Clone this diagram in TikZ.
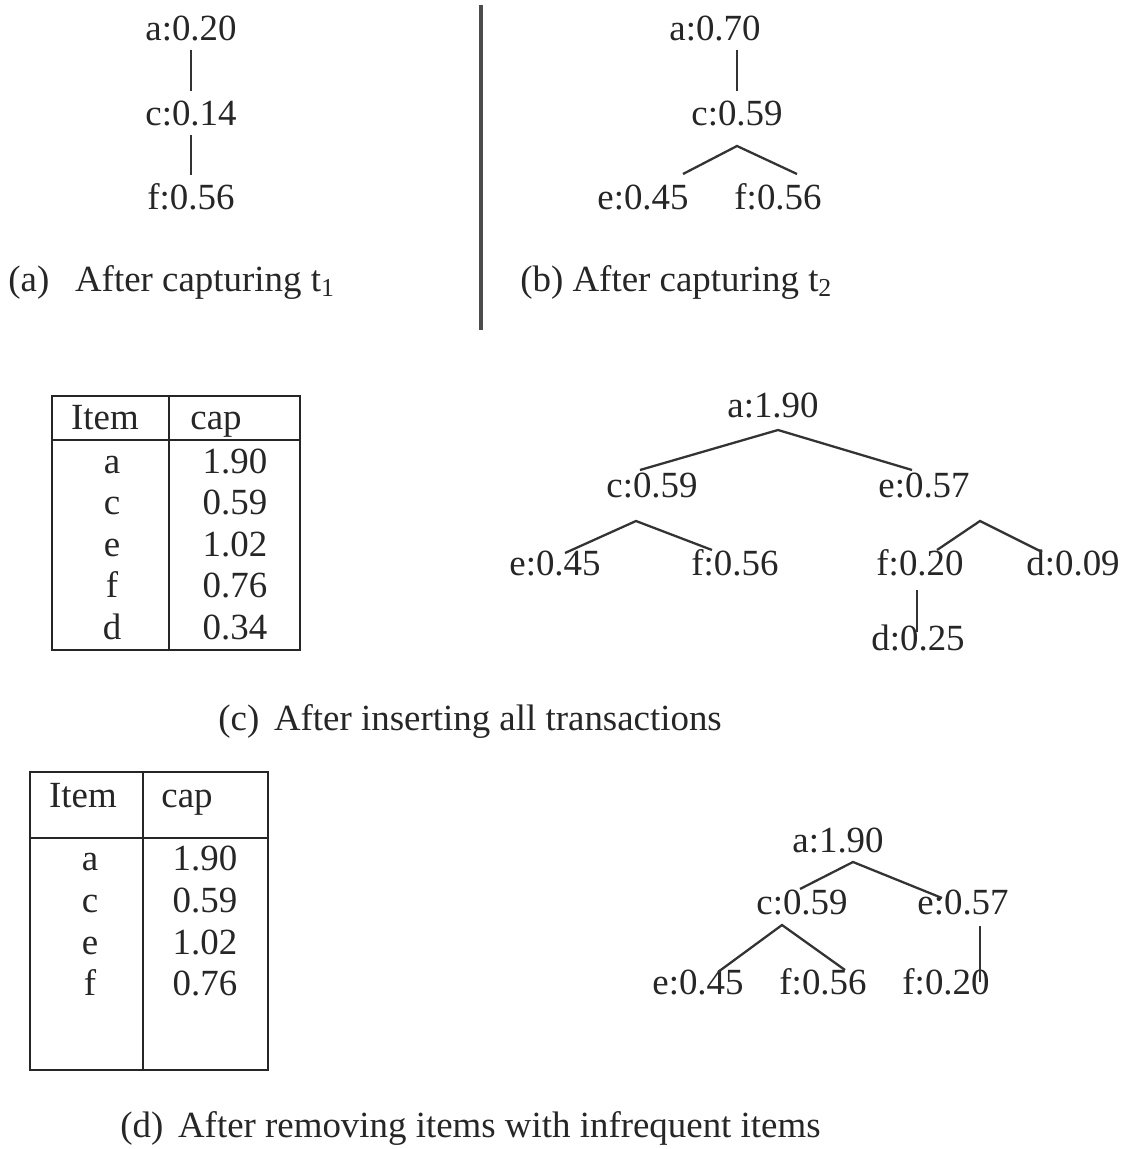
\documentclass[tikz,border=0pt]{standalone}
\usepackage{fontspec}
\setmainfont{Liberation Serif}
\usetikzlibrary{calc}

\begin{document}
\begin{tikzpicture}[
  x=0.02cm, y=-0.02cm,
  lbl/.style={inner sep=5pt, font=\fontsize{21}{25}\selectfont, text=black!85},
  cell/.style={anchor=base, inner sep=0pt, font=\fontsize{21}{25}\selectfont, text=black!85},
  capt/.style={anchor=base west, inner sep=0pt, font=\fontsize{21}{25}\selectfont, text=black!85},
  branch/.style={draw=black!80, line width=1.3pt},
  tabline/.style={draw=black!85, line width=1.4pt}
]
  \useasboundingbox (0,0) rectangle (1129,1149);

  % (a) after t1
  \node[lbl] (a1) at (191,28) {a:0.20};
  \node[lbl] (c1) at (191,113) {c:0.14};
  \node[lbl] (f1) at (191,197) {f:0.56};
  \draw[branch] (a1) -- (c1);
  \draw[branch] (c1) -- (f1);
  \node[capt] (capa) at (8,291) {(a)\hspace{0.7em}After capturing t\textsubscript{1}};

  \draw[black!70, line width=1.8pt] (481,5) -- (481,330);

  % (b) after t2
  \node[lbl] (a2) at (715,28) {a:0.70};
  \node[lbl] (c2) at (737,113) {c:0.59};
  \node[lbl] (e2) at (643,197) {e:0.45};
  \node[lbl] (f2) at (778,197) {f:0.56};
  \draw[branch] ($(a2.south)+(22,0)$) -- (c2.north);
  \draw[branch] ($(e2)+(40,-23)$) -- ($(c2)+(0,33)$) -- ($(f2)+(19,-23)$);
  \node[capt] (capb) at (520,291) {(b) After capturing t\textsubscript{2}};

  % (c) table
  \draw[tabline] (52,396) rectangle (300,650);
  \draw[tabline] (52,440) -- (300,440);
  \draw[tabline] (169,396) -- (169,650);
  \node[cell] (hi3) at (105,429) {Item};
  \node[cell] (hc3) at (216,429) {cap};
  \node[cell] (ia3) at (112,473.5) {a};
  \node[cell] (va3) at (235,473.5) {1.90};
  \node[cell] (ic3) at (112,514.5) {c};
  \node[cell] (vc3) at (235,514.5) {0.59};
  \node[cell] (ie3) at (112,556.5) {e};
  \node[cell] (ve3) at (235,556.5) {1.02};
  \node[cell] (if3) at (112,597.5) {f};
  \node[cell] (vf3) at (235,597.5) {0.76};
  \node[cell] (id3) at (112,639.5) {d};
  \node[cell] (vd3) at (235,639.5) {0.34};

  % (c) tree
  \node[lbl] (a3) at (773,405) {a:1.90};
  \node[lbl] (c3) at (652,485) {c:0.59};
  \node[lbl] (e3) at (924,485) {e:0.57};
  \node[lbl] (e3c) at (555,563) {e:0.45};
  \node[lbl] (f3c) at (735,563) {f:0.56};
  \node[lbl] (f3e) at (920,563) {f:0.20};
  \node[lbl] (d3e) at (1073,563) {d:0.09};
  \node[lbl] (d3f) at (918,638) {d:0.25};
  \draw[branch] ($(c3)+(-12,-15)$) -- ($(a3)+(5,25)$) -- ($(e3)+(-12,-15)$);
  \draw[branch] ($(e3c)+(10,-10)$) -- ($(c3)+(-16,36)$) -- ($(f3c)+(-23,-13)$);
  \draw[branch] ($(f3e)+(17,-13)$) -- ($(e3)+(56,36)$) -- ($(d3e)+(-31,-11)$);
  \draw[branch] ($(f3e)+(-3,27)$) -- ($(d3f)+(-1,-6)$);
  \node[capt] (capc) at (218,730) {(c)\hspace{0.4em}After inserting all transactions};

  % (d) table
  \draw[tabline] (30,772) rectangle (268,1070);
  \draw[tabline] (30,838) -- (268,838);
  \draw[tabline] (143,772) -- (143,1070);
  \node[cell] (hi4) at (83,807) {Item};
  \node[cell] (hc4) at (187,807) {cap};
  \node[cell] (ia4) at (90,870.5) {a};
  \node[cell] (va4) at (205,870.5) {1.90};
  \node[cell] (ic4) at (90,912.5) {c};
  \node[cell] (vc4) at (205,912.5) {0.59};
  \node[cell] (ie4) at (90,954.5) {e};
  \node[cell] (ve4) at (205,954.5) {1.02};
  \node[cell] (if4) at (90,995.5) {f};
  \node[cell] (vf4) at (205,995.5) {0.76};

  % (d) tree
  \node[lbl] (a4) at (838,840) {a:1.90};
  \node[lbl] (c4) at (802,902) {c:0.59};
  \node[lbl] (e4) at (963,902) {e:0.57};
  \node[lbl] (e4c) at (698,982) {e:0.45};
  \node[lbl] (f4c) at (823,982) {f:0.56};
  \node[lbl] (f4e) at (946,982) {f:0.20};
  \draw[branch] ($(c4)+(-2,-13)$) -- ($(a4)+(15,22)$) -- ($(e4)+(-21,-4)$);
  \draw[branch] ($(e4c)+(20,-10)$) -- ($(c4)+(-20,23)$) -- ($(f4c)+(22,-12)$);
  \draw[branch] ($(e4)+(17,24)$) -- ($(f4e)+(34,0)$);
  \node[capt] (capd) at (120,1137) {(d)\hspace{0.4em}After removing items with infrequent items};
\end{tikzpicture}
\end{document}
